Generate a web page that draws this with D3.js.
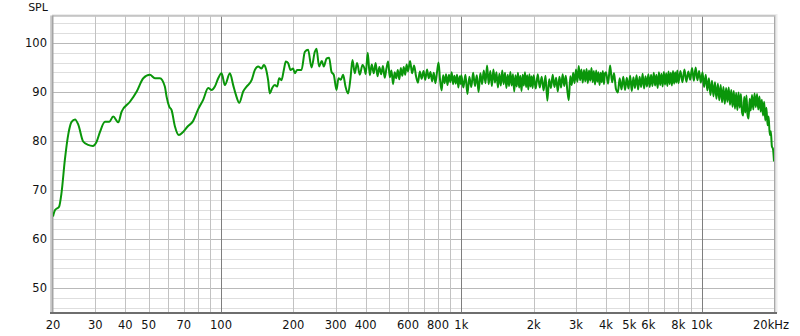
<!DOCTYPE html>
<html>
<head>
<meta charset="utf-8">
<script src="https://cdn.jsdelivr.net/npm/d3@7"></script>
<style>
  body { margin: 0; background: #fff; }
  text { font-family: "DejaVu Sans", sans-serif; fill: #111; }
</style>
</head>
<body>
<div id="chart"></div>
<script>
// frequency response (Hz / dB SPL)
const freqLow = [20, 20.4, 21.2, 21.7, 22.4, 23.2, 23.9, 24.7, 25.5, 26.7, 28.0, 29.3, 30.4, 31.4, 32.9, 34.3, 35.6, 37.4, 38.6, 41.8, 44.6, 47.5, 50.6, 53.1, 55.7, 58.4, 59.4, 60.9, 62.3, 64.3, 66.8, 69.4, 72.8, 76.4, 80.4, 84.3, 88.5, 91.4, 94.3, 97.4, 100.6, 103.8, 108.9, 112.4, 115.4, 119.1, 123.7, 127.8, 134.1, 138.4, 142.8, 147.5, 150.8, 153.7, 157.1, 159.7, 163.3, 167.6, 171.3, 174.6, 178.6, 182.6, 186.1, 190.3, 194.7];
const splLow = [64.6, 65.9, 66.6, 69.4, 76.1, 81.6, 83.9, 84.4, 83.3, 79.9, 79.2, 79.0, 79.9, 81.9, 83.9, 83.9, 85.0, 83.8, 86.0, 88.0, 90.1, 92.8, 93.5, 92.8, 92.8, 91.1, 89.0, 87.0, 86.3, 83.0, 81.2, 81.8, 83.0, 84.0, 86.5, 88.4, 90.8, 90.4, 91.1, 92.8, 93.8, 91.4, 93.8, 91.4, 89.4, 87.8, 90.1, 91.1, 92.4, 94.5, 95.2, 94.8, 95.5, 94.8, 92.4, 89.7, 90.8, 91.4, 91.1, 92.8, 92.4, 94.5, 96.2, 95.9, 94.5];

const freqMid = [199.6, 202.9, 207.4, 216.3, 223.3, 230.4, 238.1, 245.7, 249.7, 256.0, 262.7, 267.8, 274.8, 281.8, 288.3, 294.7, 302.4, 308.3, 315.2, 322.2, 329.7, 338.0, 345.8, 352.5, 360.3, 368.4, 378.0, 387.9, 396.6];
const splMid = [94.8, 93.8, 94.5, 94.5, 98.2, 98.6, 95.0, 98.2, 98.8, 95.2, 96.3, 95.2, 96.8, 97.0, 94.1, 93.5, 90.4, 92.8, 92.5, 93.5, 91.1, 89.7, 92.8, 96.5, 93.8, 95.9, 93.5, 95.5, 94.5];

const freq400 = [400, 408, 416, 424, 432, 440, 448, 456, 464, 472, 480, 488, 496, 504, 512, 520, 528, 536, 544, 552, 560, 568, 576, 584, 592];
const spl400 = [93.6, 98.0, 93.4, 95.6, 93.8, 95.9, 93.2, 95.1, 93.6, 95.3, 92.9, 94.8, 96.2, 93.0, 94.4, 91.6, 94.0, 92.8, 94.5, 92.6, 94.9, 93.3, 95.1, 93.5, 95.6];

const freq600 = [600, 612, 624, 636, 648, 660, 672, 684, 696, 708, 720, 732, 744, 756, 768, 780, 792, 804, 816, 828, 840, 852, 864, 876, 888, 900, 912, 924, 936, 948, 960, 972, 984, 996];
const spl600 = [94.2, 96.3, 93.8, 95.4, 93.2, 91.9, 94.2, 92.7, 94.3, 92.5, 94.6, 92.8, 94.1, 92.2, 93.9, 91.8, 94.0, 96.0, 92.4, 90.3, 93.4, 91.8, 93.6, 91.4, 93.5, 92.0, 94.0, 91.6, 93.3, 91.7, 93.5, 90.9, 93.2, 91.6];

const freq1k = [1000, 1020, 1040, 1060, 1080, 1100, 1120, 1140, 1160, 1180, 1200, 1220, 1240, 1260, 1280, 1300, 1320, 1340, 1360, 1380, 1400, 1420, 1440, 1460, 1480, 1500, 1520, 1540, 1560, 1580, 1600, 1620, 1640, 1660, 1680, 1700, 1720, 1740, 1760, 1780, 1800, 1820, 1840, 1860, 1880, 1900, 1920, 1940, 1960, 1980];
const spl1k = [93.4, 90.9, 93.5, 89.6, 93.1, 91.0, 93.9, 91.2, 93.4, 90.0, 93.8, 91.6, 94.4, 91.8, 95.4, 91.6, 94.3, 91.2, 94.6, 91.9, 94.0, 90.9, 93.7, 91.3, 94.4, 91.6, 93.9, 90.8, 93.5, 91.2, 94.1, 91.3, 93.6, 90.1, 93.4, 91.1, 93.9, 90.9, 93.3, 90.2, 93.5, 91.3, 94.0, 91.0, 93.4, 90.5, 93.6, 91.1, 93.2, 90.8];

const freq2k = [2000, 2040, 2080, 2120, 2160, 2200, 2240, 2280, 2320, 2360, 2400, 2440, 2480, 2520, 2560, 2600, 2640, 2680, 2720, 2760, 2800, 2840, 2880, 2920, 2960, 3000, 3040, 3080, 3120, 3160, 3200, 3240, 3280, 3320, 3360, 3400, 3440, 3480, 3520, 3560, 3600, 3640, 3680, 3720, 3760, 3800, 3840, 3880, 3920, 3960];
const spl2k = [93.4, 90.7, 93.6, 90.9, 93.1, 90.3, 93.3, 88.2, 92.6, 90.8, 93.5, 91.0, 92.9, 90.1, 93.1, 90.9, 93.6, 91.2, 93.3, 90.4, 88.3, 93.2, 91.4, 93.9, 91.8, 94.6, 92.1, 95.3, 92.4, 94.6, 91.9, 94.5, 92.2, 94.7, 91.8, 94.4, 92.3, 94.9, 92.0, 94.3, 91.5, 94.4, 92.1, 94.0, 91.4, 93.9, 92.0, 94.3, 91.6, 93.8];

const freq4k = [4000, 4080, 4160, 4240, 4320, 4400, 4480, 4560, 4640, 4720, 4800, 4880, 4960, 5040, 5120, 5200, 5280, 5360, 5440, 5520, 5600, 5680, 5760, 5840, 5920, 6000, 6080, 6160, 6240, 6320, 6400, 6480, 6560, 6640, 6720, 6800, 6880, 6960, 7040, 7120, 7200, 7280, 7360, 7440, 7520, 7600, 7680, 7760, 7840, 7920];
const spl4k = [94.0, 91.7, 95.4, 92.0, 93.8, 90.6, 89.9, 92.8, 90.5, 93.1, 90.4, 92.9, 90.7, 93.3, 90.2, 93.0, 90.8, 93.4, 90.5, 93.1, 91.0, 93.7, 90.7, 93.2, 91.1, 93.6, 91.0, 93.5, 91.2, 93.9, 91.3, 93.5, 90.8, 94.0, 91.4, 93.7, 91.1, 94.1, 91.5, 93.8, 91.2, 94.2, 91.6, 93.9, 91.3, 94.3, 91.7, 94.0, 91.9, 94.4];

const freq8k = [8000, 8160, 8320, 8480, 8640, 8800, 8960, 9120, 9280, 9440, 9600, 9760, 9920, 10080, 10240, 10400, 10560, 10720, 10880, 11040, 11200, 11360, 11520, 11680, 11840, 12000, 12160, 12320, 12480, 12640, 12800, 12960, 13120, 13280, 13440, 13600, 13760, 13920, 14080, 14240, 14400, 14560, 14720, 14880, 15040, 15200, 15360, 15520, 15680, 15840];
const spl8k = [91.8, 94.3, 92.0, 94.6, 92.1, 94.2, 92.5, 94.9, 92.3, 95.0, 92.4, 94.3, 91.9, 94.0, 91.0, 93.5, 90.3, 92.8, 89.4, 92.3, 89.1, 92.0, 88.6, 91.7, 88.3, 91.4, 87.9, 91.0, 87.6, 90.8, 88.0, 90.9, 87.4, 90.4, 87.0, 90.2, 86.6, 89.8, 86.3, 89.9, 86.8, 89.6, 85.9, 85.2, 89.0, 85.8, 89.3, 85.3, 84.6, 88.6];

const freq16k = [16000, 16200, 16400, 16600, 16800, 17000, 17200, 17400, 17600, 17800, 18000, 18200, 18400, 18600, 18800, 19000, 19200, 19400, 19600, 19800, 20000];
const spl16k = [86.2, 89.4, 86.4, 89.7, 86.9, 89.6, 86.4, 89.1, 86.0, 88.4, 85.2, 88.0, 84.2, 86.8, 83.2, 85.0, 81.2, 82.0, 78.9, 78.4, 75.8];

// axis ticks
const yTicks = [50, 60, 70, 80, 90, 100];
const xTickVals = [20, 30, 40, 50, 70, 100, 200, 300, 400, 600, 800, 1000, 2000, 3000, 4000, 5000, 6000, 8000, 10000, 20000];
const xTickLabels = ["20", "30", "40", "50", "70", "100", "200", "300", "400", "600", "800", "1k", "2k", "3k", "4k", "5k", "6k", "8k", "10k", "20kHz"];

(function () {
    const freqs = [].concat(freqLow, freqMid, freq400, freq600, freq1k, freq2k, freq4k, freq8k, freq16k);
    const spls = [].concat(splLow, splMid, spl400, spl600, spl1k, spl2k, spl4k, spl8k, spl16k);
    const data = freqs.map((f, i) => ({ f: f, v: spls[i] }));

    const W = 800, H = 336;
    const pLeft = 53, pRight = 774, pTop = 16.5, pBottom = 312.5;

    const svg = d3.select("#chart").append("svg")
        .attr("width", W)
        .attr("height", H);

    const x = d3.scaleLog().domain([20, 20000]).range([pLeft, pRight]);
    const y = d3.scaleLinear().domain([45, 105.4]).range([pBottom, pTop]);

    // soft frame shadow
    svg.append("rect").attr("x", pLeft - 1).attr("y", pTop - 2.5).attr("width", pRight - pLeft + 4.5).attr("height", pBottom - pTop + 3)
        .attr("fill", "#ececec");
    svg.append("rect").attr("x", pLeft - 1).attr("y", pTop - 1.5).attr("width", pRight - pLeft + 3).attr("height", pBottom - pTop + 2)
        .attr("fill", "#d6d6d6");
    svg.append("rect").attr("x", pLeft).attr("y", pTop).attr("width", pRight - pLeft).attr("height", pBottom - pTop)
        .attr("fill", "#fff");

    // horizontal grid every 2 dB
    const hLines = d3.range(46, 105, 2);
    svg.append("g").selectAll("line")
        .data(hLines)
        .enter().append("line")
        .attr("x1", pLeft).attr("x2", pRight)
        .attr("y1", d => Math.round(y(d)) + 0.5).attr("y2", d => Math.round(y(d)) + 0.5)
        .attr("stroke", d => d % 10 === 0 ? "#b9b9b9" : "#dedede")
        .attr("stroke-width", 1);

    // vertical grid at 1..9 x decade
    const vLines = [];
    [10, 100, 1000].forEach(dec => {
        for (let m = 1; m <= 9; m++) {
            const f = dec * m;
            if (f > 20 && f < 20000) vLines.push(f);
        }
    });
    vLines.push(10000);
    svg.append("g").selectAll("line")
        .data(vLines)
        .enter().append("line")
        .attr("y1", pTop).attr("y2", pBottom)
        .attr("x1", d => Math.round(x(d)) + 0.5).attr("x2", d => Math.round(x(d)) + 0.5)
        .attr("stroke", d => (d === 100 || d === 1000 || d === 10000) ? "#7e7e7e" : "#c2c2c2")
        .attr("stroke-width", 1);

    // frame lines
    svg.append("line").attr("x1", pLeft).attr("x2", pRight + 1).attr("y1", pTop - 0.5).attr("y2", pTop - 0.5)
        .attr("stroke", "#b4b4b4");
    svg.append("line").attr("x1", pRight + 0.5).attr("x2", pRight + 0.5).attr("y1", pTop).attr("y2", pBottom)
        .attr("stroke", "#a8a8a8");
    svg.append("rect").attr("x", pLeft - 3).attr("y", pTop - 1).attr("width", 1.5).attr("height", pBottom - pTop + 2)
        .attr("fill", "#d0d0d0");
    svg.append("rect").attr("x", pLeft - 1.5).attr("y", pTop - 1).attr("width", 2).attr("height", pBottom - pTop + 2)
        .attr("fill", "#a4a4a4");
    svg.append("line").attr("x1", pLeft - 3).attr("x2", pRight + 3).attr("y1", pBottom + 0.5).attr("y2", pBottom + 0.5)
        .attr("stroke", "#6e6e6e").attr("stroke-width", 2);

    // response curve
    svg.append("clipPath").attr("id", "plotclip")
        .append("rect").attr("x", pLeft).attr("y", pTop).attr("width", pRight - pLeft).attr("height", pBottom - pTop);

    const line = d3.line()
        .x(d => x(d.f))
        .y(d => y(d.v))
        .curve(d3.curveMonotoneX);

    svg.append("path")
        .datum(data)
        .attr("clip-path", "url(#plotclip)")
        .attr("fill", "none")
        .attr("stroke", "#0a960a")
        .attr("stroke-width", 2)
        .attr("stroke-linejoin", "round")
        .attr("d", line);

    // y labels
    svg.append("g").selectAll("text")
        .data(yTicks)
        .enter().append("text")
        .attr("x", 47)
        .attr("y", d => y(d))
        .attr("dy", "0.36em")
        .attr("text-anchor", "end")
        .style("font-size", "11.5px")
        .text(d => d);

    svg.append("text")
        .attr("x", 38).attr("y", 11)
        .attr("text-anchor", "middle")
        .style("font-size", "11px")
        .text("SPL");

    // x labels
    svg.append("g").selectAll("text")
        .data(xTickVals)
        .enter().append("text")
        .attr("x", (d, i) => i === xTickVals.length - 1 ? x(d) - 3 : x(d))
        .attr("y", 329)
        .attr("text-anchor", "middle")
        .style("font-size", "11.5px")
        .text((d, i) => xTickLabels[i]);
})();
</script>
</body>
</html>
